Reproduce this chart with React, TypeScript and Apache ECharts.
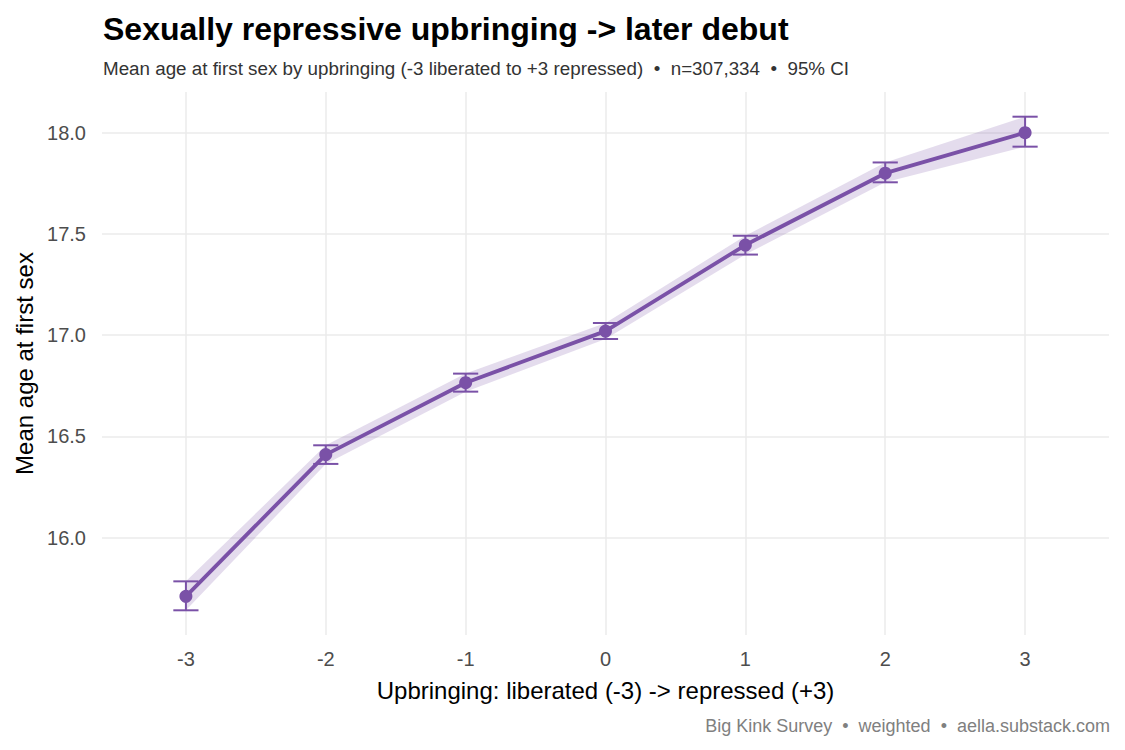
import React, { useEffect, useRef } from "react";
import * as echarts from "echarts";

// Upbringing score (-3 liberated .. +3 repressed)
const upbringing = [-3, -2, -1, 0, 1, 2, 3];
// Mean age at first sex, with 95% CI bounds
const meanAge = [15.71, 16.41, 16.765, 17.02, 17.445, 17.8, 18.0];
const ciLower = [15.641, 16.364, 16.721, 16.981, 17.398, 17.755, 17.931];
const ciUpper = [15.784, 16.456, 16.81, 17.06, 17.491, 17.853, 18.079];

const yTicks = [16, 16.5, 17, 17.5, 18];

const PURPLE = "#7a51a7";
const FONT = "'Liberation Sans', Arial, sans-serif";

export default function App() {
  const ref = useRef<HTMLDivElement>(null);

  useEffect(() => {
    document.body.style.margin = "0";
    const chart = echarts.init(ref.current!, null, { renderer: "svg" });

    const option: any = {
      animation: false,
      backgroundColor: "#ffffff",
      textStyle: { fontFamily: FONT },
      title: {
        text: "Sexually repressive upbringing -> later debut",
        subtext:
          "Mean age at first sex by upbringing (-3 liberated to +3 repressed)  \u2022  n=307,334  \u2022  95% CI",
        left: 98,
        top: 8,
        itemGap: 14,
        textStyle: { fontFamily: FONT, fontSize: 32, fontWeight: "bold", color: "#000000" },
        subtextStyle: { fontFamily: FONT, fontSize: 18.8, color: "#333333" },
      },
      graphic: [
        {
          type: "text",
          right: 15,
          top: 717,
          style: {
            text: "Big Kink Survey  \u2022  weighted  \u2022  aella.substack.com",
            font: `18px ${FONT}`,
            fill: "#808080",
          },
        },
      ],
      grid: { left: 102, right: 16, top: 92, bottom: 115, containLabel: false },
      xAxis: {
        type: "value",
        min: -3.6,
        max: 3.6,
        name: "Upbringing: liberated (-3) -> repressed (+3)",
        nameLocation: "middle",
        nameGap: 43,
        nameTextStyle: { fontFamily: FONT, fontSize: 24, color: "#000000" },
        axisLine: { show: false },
        axisTick: { show: false, customValues: upbringing },
        axisLabel: {
          customValues: upbringing,
          color: "#4d4d4d",
          fontSize: 20,
          fontFamily: FONT,
          margin: 14,
          formatter: (v: number) => String(v),
        },
        splitLine: { show: true, lineStyle: { color: "#ebebeb", width: 1.5 } },
      },
      yAxis: {
        type: "value",
        min: 15.519,
        max: 18.201,
        name: "Mean age at first sex",
        nameLocation: "middle",
        nameRotate: 90,
        nameGap: 66,
        nameTextStyle: { fontFamily: FONT, fontSize: 24, color: "#000000" },
        axisLine: { show: false },
        axisTick: { show: false, customValues: yTicks },
        axisLabel: {
          customValues: yTicks,
          color: "#4d4d4d",
          fontSize: 20,
          fontFamily: FONT,
          margin: 16,
          formatter: (v: number) => v.toFixed(1),
        },
        splitLine: { show: true, lineStyle: { color: "#ebebeb", width: 1.5 } },
      },
      series: [
        {
          // confidence ribbon
          type: "custom",
          silent: true,
          z: 1,
          data: [[0]],
          renderItem: (params: any, api: any) => {
            const pts: number[][] = [];
            upbringing.forEach((x, i) => pts.push(api.coord([x, ciUpper[i]])));
            for (let i = upbringing.length - 1; i >= 0; i--) {
              pts.push(api.coord([upbringing[i], ciLower[i]]));
            }
            return {
              type: "polygon",
              shape: { points: pts },
              style: { fill: "rgba(122,81,167,0.2)", stroke: "none" },
            };
          },
        },
        {
          // error bars
          type: "custom",
          silent: true,
          z: 2,
          data: upbringing.map((x, i) => [x, ciLower[i], ciUpper[i]]),
          renderItem: (params: any, api: any) => {
            const x = api.value(0);
            const lo = api.value(1);
            const hi = api.value(2);
            const top = api.coord([x, hi]);
            const bot = api.coord([x, lo]);
            const tl = api.coord([x - 0.09, hi]);
            const tr = api.coord([x + 0.09, hi]);
            const bl = api.coord([x - 0.09, lo]);
            const br = api.coord([x + 0.09, lo]);
            const style = { stroke: PURPLE, lineWidth: 2 };
            return {
              type: "group",
              children: [
                { type: "line", shape: { x1: top[0], y1: top[1], x2: bot[0], y2: bot[1] }, style },
                { type: "line", shape: { x1: tl[0], y1: tl[1], x2: tr[0], y2: tr[1] }, style },
                { type: "line", shape: { x1: bl[0], y1: bl[1], x2: br[0], y2: br[1] }, style },
              ],
            };
          },
        },
        {
          type: "line",
          z: 3,
          data: upbringing.map((x, i) => [x, meanAge[i]]),
          symbol: "circle",
          symbolSize: 13,
          showSymbol: true,
          lineStyle: { color: PURPLE, width: 3.8 },
          itemStyle: { color: PURPLE },
          emphasis: { disabled: true },
        },
      ],
    };

    chart.setOption(option);
    return () => chart.dispose();
  }, []);

  return <div ref={ref} style={{ width: 1125, height: 750 }} />;
}
